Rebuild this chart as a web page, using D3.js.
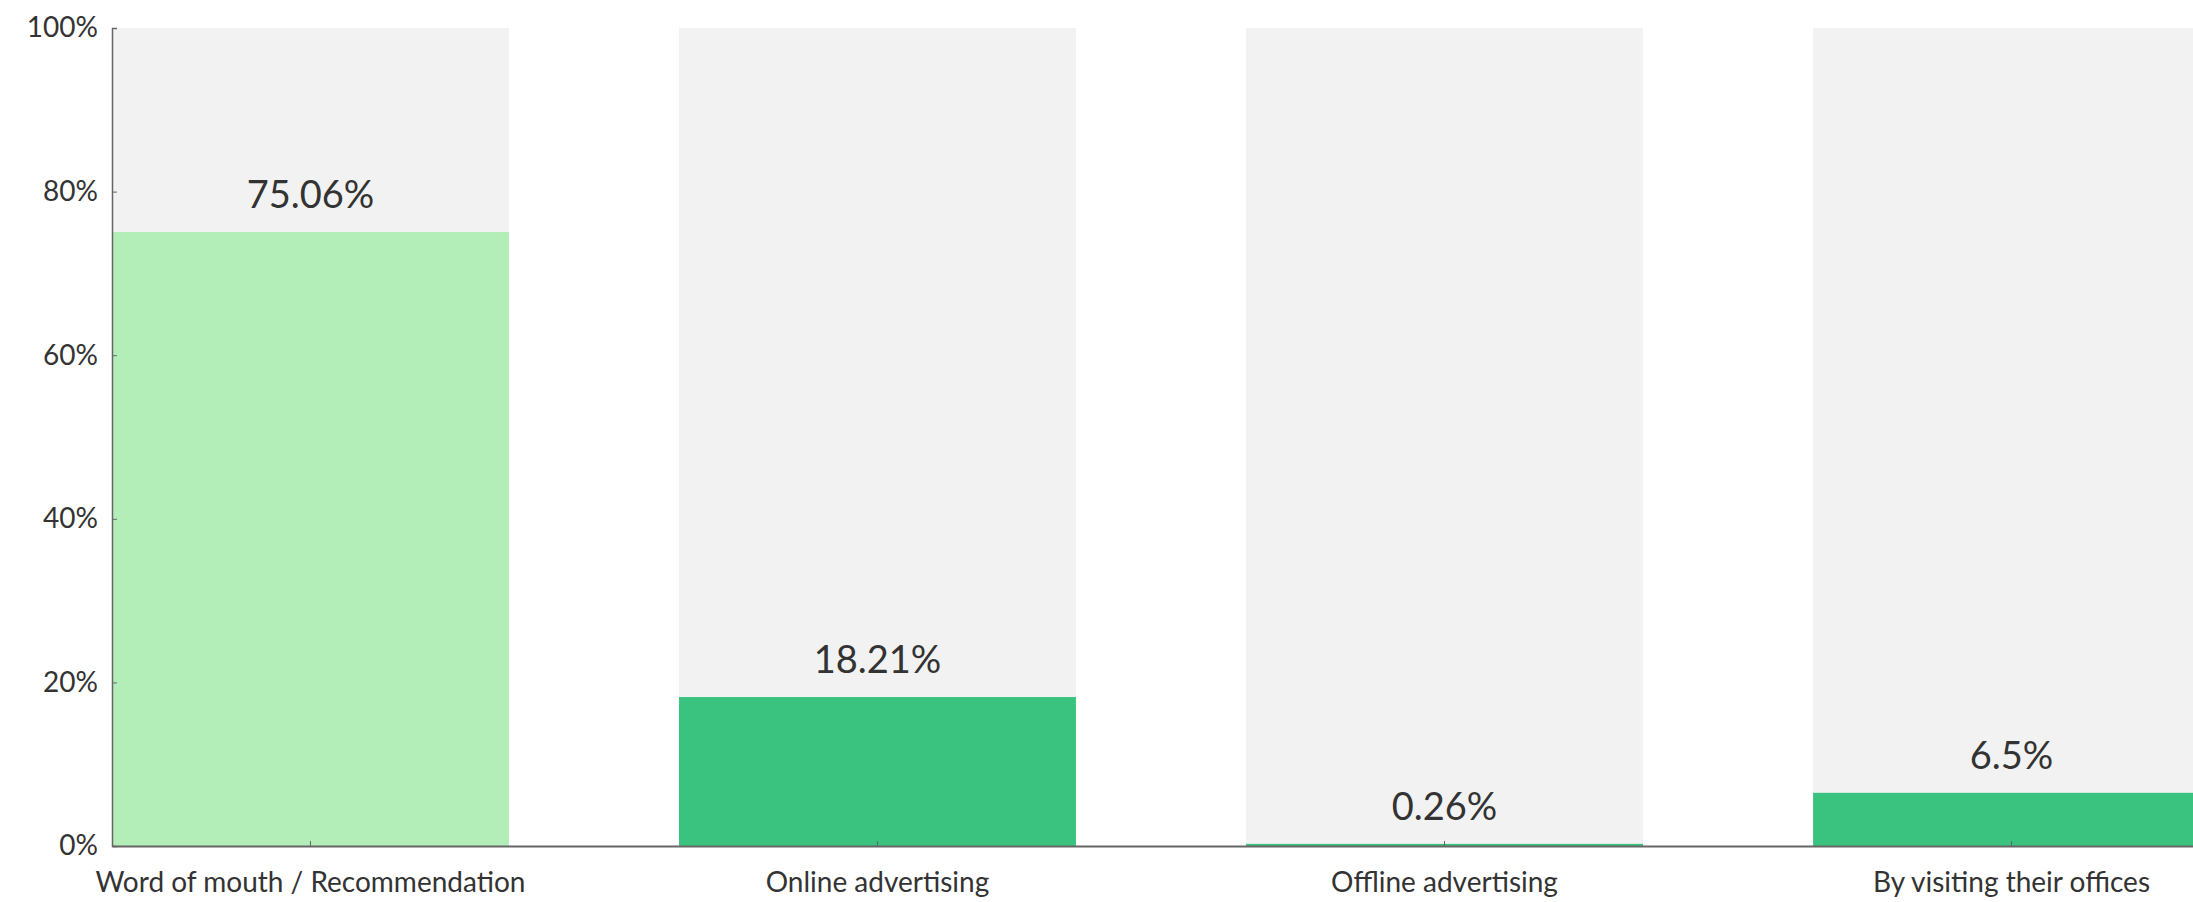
<!DOCTYPE html>
<html>
<head>
<meta charset="utf-8">
<script src="https://cdn.jsdelivr.net/npm/d3@7"></script>
<style>
html,body{margin:0;padding:0;background:#fff;overflow:hidden;}
svg{display:block;}
text{font-family:Lato,"Open Sans",sans-serif;fill:#333;font-weight:400;}
</style>
</head>
<body>
<svg id="chart" width="2193" height="902"></svg>
<script>
const categories = ["Word of mouth / Recommendation","Online advertising","Offline advertising","By visiting their offices"];
const values = [75.06, 18.21, 0.26, 6.5];
const valueLabels = ["75.06%","18.21%","0.26%","6.5%"];
const yTicks = [0,20,40,60,80,100];
const barColors = ["#b3eeb8","#3ac37e","#3ac37e","#3ac37e"];

(function(){
const svg = d3.select("#chart");
const mLeft = 112, mTop = 28, mBottom = 846, mRight = 2210;

const x = d3.scaleBand().domain(categories).range([mLeft, mRight]).paddingInner(0.3).paddingOuter(0);
const y = d3.scaleLinear().domain([0,100]).range([mBottom, mTop]);

const data = categories.map((c,i)=>({c, v:values[i], label:valueLabels[i], color:barColors[i]}));

svg.append("g").selectAll("rect").data(data).join("rect")
  .attr("x", d=>x(d.c)).attr("width", x.bandwidth())
  .attr("y", y(100)).attr("height", y(0)-y(100))
  .attr("fill","#f2f2f2");

svg.append("g").selectAll("rect").data(data).join("rect")
  .attr("x", d=>x(d.c)).attr("width", x.bandwidth())
  .attr("y", d=>y(d.v)).attr("height", d=>y(0)-y(d.v))
  .attr("fill", d=>d.color);

svg.append("g").selectAll("text").data(data).join("text")
  .attr("x", d=>x(d.c)+x.bandwidth()/2)
  .attr("y", d=>y(d.v)-24)
  .attr("text-anchor","middle")
  .style("font-size","38px")
  .text(d=>d.label);

const yAxis = d3.axisLeft(y).tickValues(yTicks).tickFormat(d=>d+"%").tickSize(-5).tickPadding(14);
const gy = svg.append("g").attr("transform",`translate(${mLeft},0)`).call(yAxis);
gy.select(".domain").attr("stroke","#666").attr("stroke-width",1.5);
gy.selectAll(".tick line").attr("stroke","#666");
gy.selectAll(".tick text").style("font-size","28px").style("fill","#333");

const xAxis = d3.axisBottom(x).tickSize(-5).tickPadding(26).tickSizeOuter(0);
const gx = svg.append("g").attr("transform",`translate(0,${mBottom})`).call(xAxis);
gx.select(".domain").attr("stroke","#666").attr("stroke-width",2);
gx.selectAll(".tick line").attr("stroke","#666");
gx.selectAll(".tick text").style("font-size","28px").style("fill","#333");
})();
</script>
</body>
</html>
